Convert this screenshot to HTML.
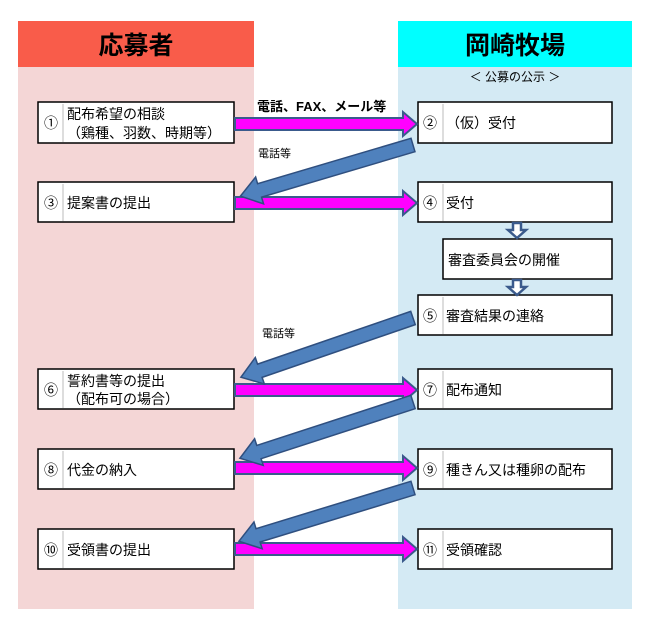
<!DOCTYPE html>
<html><head><meta charset="utf-8"><style>
body{margin:0;background:#fff;}
svg{display:block;font-family:"Liberation Sans","Noto Sans CJK JP",sans-serif;}
.bt{font-size:14px;fill:#000;}
</style></head><body>
<svg width="663" height="634" viewBox="0 0 663 634" xmlns="http://www.w3.org/2000/svg">
<!-- columns -->
<rect x="18" y="67" width="236" height="542" fill="#f4d6d6"/>
<rect x="18" y="21" width="236" height="46" fill="#f95c4a"/>
<rect x="398" y="67" width="234" height="542" fill="#d4eaf4"/>
<rect x="398" y="21" width="234" height="46" fill="#00ffff"/>
<text x="136" y="54" text-anchor="middle" font-size="25" font-weight="bold">応募者</text>
<text x="515" y="54" text-anchor="middle" font-size="25" font-weight="bold">岡崎牧場</text>
<text x="515" y="81" text-anchor="middle" font-size="12">＜ 公募の公示 ＞</text>

<!-- boxes -->
<g fill="#fff" stroke="#000" stroke-width="1.5">
<rect x="38" y="102" width="196" height="41"/>
<rect x="38" y="182" width="196" height="40"/>
<rect x="38" y="369" width="196" height="40"/>
<rect x="38" y="449" width="196" height="40"/>
<rect x="38" y="529" width="196" height="40"/>
<rect x="418" y="102" width="194" height="41"/>
<rect x="418" y="182" width="194" height="40"/>
<rect x="443" y="239" width="169" height="40"/>
<rect x="418" y="295" width="194" height="40"/>
<rect x="418" y="369" width="194" height="40"/>
<rect x="418" y="449" width="194" height="40"/>
<rect x="418" y="529" width="194" height="40"/>
</g>
<g stroke="#bbb" stroke-width="1">
<line x1="63" y1="104" x2="63" y2="142"/><line x1="63" y1="184" x2="63" y2="221"/>
<line x1="63" y1="371" x2="63" y2="408"/><line x1="63" y1="451" x2="63" y2="488"/>
<line x1="63" y1="531" x2="63" y2="568"/>
<line x1="443" y1="104" x2="443" y2="142"/><line x1="443" y1="184" x2="443" y2="221"/>
<line x1="443" y1="297" x2="443" y2="334"/><line x1="443" y1="371" x2="443" y2="408"/>
<line x1="443" y1="451" x2="443" y2="488"/><line x1="443" y1="531" x2="443" y2="568"/>
</g>
<g class="bt">
<text x="44" y="128">①</text><text x="67" y="119">配布希望の相談</text><text x="67" y="138">（鶏種、羽数、時期等）</text>
<text x="44" y="208">③</text><text x="67" y="208">提案書の提出</text>
<text x="44" y="395">⑥</text><text x="67" y="386">誓約書等の提出</text><text x="67" y="404">（配布可の場合）</text>
<text x="44" y="475">⑧</text><text x="67" y="475">代金の納入</text>
<text x="44" y="555">⑩</text><text x="67" y="555">受領書の提出</text>
<text x="423" y="128">②</text><text x="446" y="128">（仮）受付</text>
<text x="423" y="208">④</text><text x="446" y="208">受付</text>
<text x="448" y="265">審査委員会の開催</text>
<text x="423" y="321">⑤</text><text x="446" y="321">審査結果の連絡</text>
<text x="423" y="395">⑦</text><text x="446" y="395">配布通知</text>
<text x="423" y="475">⑨</text><text x="446" y="475">種きん又は種卵の配布</text>
<text x="423" y="555">⑪</text><text x="446" y="555">受領確認</text>
</g>
<text x="257" y="111" font-size="13" font-weight="bold">電話、FAX、メール等</text>
<text x="258" y="157" font-size="11">電話等</text>
<text x="262" y="337" font-size="11">電話等</text>

<!-- magenta arrows -->
<g fill="#ff00ff" stroke="#3a5a8c" stroke-width="2">
<polygon points="235,118 403,118 403,112 417,124 403,136 403,130 235,130"/>
<polygon points="235,197 403,197 403,191 417,203 403,215 403,209 235,209"/>
<polygon points="235,384 403,384 403,378 417,390 403,402 403,396 235,396"/>
<polygon points="235,462 403,462 403,456 417,468 403,480 403,474 235,474"/>
<polygon points="235,543 403,543 403,537 417,549 403,561 403,555 235,555"/>
</g>
<!-- blue diagonal arrows -->
<g fill="#4f81bd" stroke="#2f4f7f" stroke-width="1.5">
<g transform="translate(413,145) rotate(163.5)"><polygon points="0,-7 160,-7 160,-14 180,0 160,14 160,7 0,7"/></g>
<g transform="translate(413,318) rotate(161)"><polygon points="0,-7 162,-7 162,-14 182,0 162,14 162,7 0,7"/></g>
<g transform="translate(413,402) rotate(162)"><polygon points="0,-7 162,-7 162,-14 182,0 162,14 162,7 0,7"/></g>
<g transform="translate(413,488) rotate(163)"><polygon points="0,-7 162,-7 162,-14 182,0 162,14 162,7 0,7"/></g>
</g>
<!-- small down arrows -->
<g fill="#fff" stroke="#3a5a8c" stroke-width="2.5">
<polygon points="513,223 521,223 521,230 526,230 517,238 508,230 513,230"/>
<polygon points="513,280 521,280 521,287 526,287 517,295 508,287 513,287"/>
</g>
</svg>
</body></html>
